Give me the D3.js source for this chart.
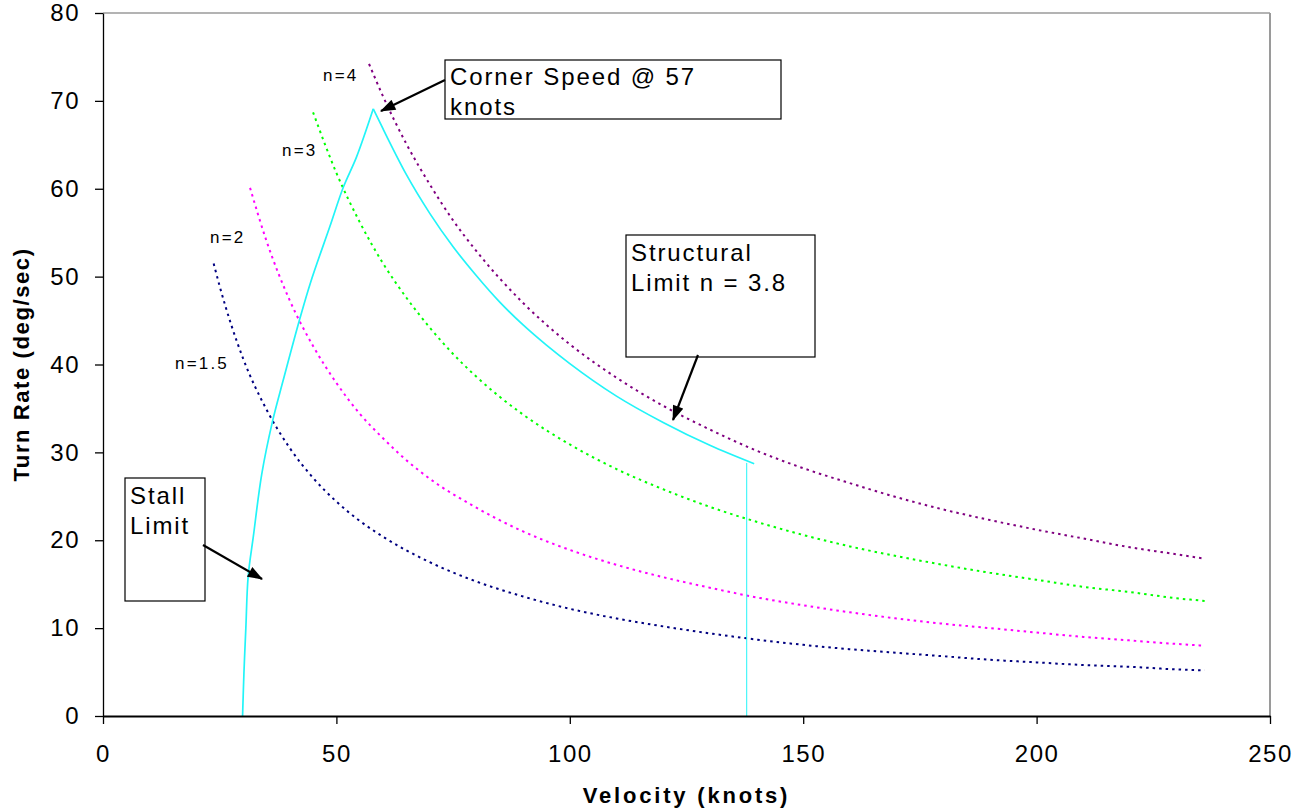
<!DOCTYPE html>
<html>
<head>
<meta charset="utf-8">
<script src="https://cdn.jsdelivr.net/npm/d3@7/dist/d3.min.js"></script>
<style>
  html, body { margin: 0; padding: 0; background: #fff; }
  svg { display: block; }
  text { font-family: "Liberation Sans", Arial, sans-serif; fill: #000; }
</style>
</head>
<body>
<svg id="chart" width="1298" height="810"></svg>
<script>
// Turn rate (deg/sec) vs. velocity (knots) at constant load factor
const velN4 = [57, 60, 65, 70, 75, 80, 90, 100, 110, 120, 130, 140, 150, 160, 170, 180, 190, 200, 210, 220, 230, 236];
const rateN4 = [74.2, 70.5, 65.1, 60.5, 56.4, 52.9, 47.0, 42.3, 38.5, 35.3, 32.6, 30.2, 28.2, 26.5, 24.9, 23.5, 22.3, 21.2, 20.2, 19.2, 18.4, 17.9];

const velN3 = [45, 50, 55, 60, 65, 70, 75, 80, 90, 100, 110, 120, 130, 140, 150, 160, 170, 180, 190, 200, 210, 220, 230, 236];
const rateN3 = [68.7, 61.8, 56.2, 51.5, 47.6, 44.2, 41.2, 38.6, 34.3, 30.9, 28.1, 25.8, 23.8, 22.1, 20.6, 19.3, 18.2, 17.2, 16.3, 15.5, 14.7, 14.1, 13.4, 13.1];

const velN2 = [31.5, 35, 40, 45, 50, 55, 60, 65, 70, 80, 90, 100, 110, 120, 130, 140, 150, 160, 170, 180, 190, 200, 210, 220, 230, 236];
const rateN2 = [60.1, 54.1, 47.3, 42.1, 37.9, 34.4, 31.6, 29.1, 27.0, 23.7, 21.0, 18.9, 17.2, 15.8, 14.6, 13.5, 12.6, 11.8, 11.1, 10.5, 10.0, 9.5, 9.0, 8.6, 8.2, 8.0];

const velN15 = [23.7, 25, 30, 35, 40, 45, 50, 55, 60, 70, 80, 90, 100, 110, 120, 130, 140, 150, 160, 170, 180, 190, 200, 210, 220, 230, 236];
const rateN15 = [51.5, 48.9, 40.7, 34.9, 30.5, 27.1, 24.4, 22.2, 20.4, 17.5, 15.3, 13.6, 12.2, 11.1, 10.2, 9.4, 8.7, 8.1, 7.6, 7.2, 6.8, 6.4, 6.1, 5.8, 5.6, 5.3, 5.2];

// Maneuvering envelope: stall limit up to corner speed, then structural limit (n = 3.8), then max speed
const velStall = [29.9, 30.2, 30.6, 31.1, 32.2, 34.0, 36.3, 38.6, 42.0, 44.5, 48.6, 51.5, 54.3, 57.9];
const rateStall = [0, 5.0, 10.0, 15.9, 20.4, 27.5, 33.5, 38.2, 44.9, 49.4, 55.7, 60.2, 63.6, 69.1];
const velStructural = [57.9, 60, 65, 70, 75, 80, 85, 90, 95, 100, 110, 120, 130, 139.5];
const rateStructural = [69.1, 66.8, 61.6, 57.2, 53.4, 50.1, 47.1, 44.5, 42.2, 40.1, 36.4, 33.4, 30.8, 28.7];
const velMaxSpeed = [137.9, 137.9];
const rateMaxSpeed = [28.8, 0];

const seriesNames = ["n=1.5", "n=2", "n=3", "n=4"];
const xTicks = [0, 50, 100, 150, 200, 250];
const yTicks = [0, 10, 20, 30, 40, 50, 60, 70, 80];

const svg = d3.select("#chart");
const plot = { left: 103, right: 1270, top: 13, bottom: 716 };

const x = d3.scaleLinear().domain([0, 250]).range([plot.left, plot.right]);
const y = d3.scaleLinear().domain([0, 80]).range([plot.bottom, plot.top]);

const zip = (xs, ys) => xs.map((v, i) => [v, ys[i]]);
const lineGen = curve => d3.line().x(d => x(d[0])).y(d => y(d[1])).curve(curve);

// plot-area frame (top and right)
svg.append("line").attr("x1", plot.left).attr("x2", plot.right)
  .attr("y1", plot.top).attr("y2", plot.top)
  .attr("stroke", "#9a9a9a").attr("stroke-width", 1.5);
svg.append("line").attr("x1", plot.right).attr("x2", plot.right)
  .attr("y1", plot.top).attr("y2", plot.bottom)
  .attr("stroke", "#9a9a9a").attr("stroke-width", 2);

// constant load factor curves
const curves = [
  { name: seriesNames[0], data: zip(velN15, rateN15), color: "#000080" },
  { name: seriesNames[1], data: zip(velN2, rateN2), color: "#FF00FF" },
  { name: seriesNames[2], data: zip(velN3, rateN3), color: "#00FF00" },
  { name: seriesNames[3], data: zip(velN4, rateN4), color: "#800080" }
];
svg.append("g").selectAll("path").data(curves).join("path")
  .attr("d", d => lineGen(d3.curveMonotoneX)(d.data))
  .attr("fill", "none")
  .attr("stroke", d => d.color)
  .attr("stroke-width", 2)
  .attr("stroke-dasharray", "2.5,4");

// envelope
const envColor = "#22F4F8";
svg.append("path")
  .attr("d", lineGen(d3.curveCatmullRom)(zip(velStall, rateStall)))
  .attr("fill", "none").attr("stroke", envColor).attr("stroke-width", 1.7);
svg.append("path")
  .attr("d", lineGen(d3.curveMonotoneX)(zip(velStructural, rateStructural)))
  .attr("fill", "none").attr("stroke", envColor).attr("stroke-width", 1.7);
svg.append("path")
  .attr("d", lineGen(d3.curveLinear)(zip(velMaxSpeed, rateMaxSpeed)))
  .attr("fill", "none").attr("stroke", envColor).attr("stroke-width", 1);

// axes
const xAxis = svg.append("g").attr("transform", `translate(0,${plot.bottom})`)
  .call(d3.axisBottom(x).tickValues(xTicks).tickSize(8).tickPadding(21).tickSizeOuter(0));
const yAxis = svg.append("g").attr("transform", `translate(${plot.left},0)`)
  .call(d3.axisLeft(y).tickValues(yTicks).tickSize(8).tickPadding(15).tickSizeOuter(0));
[xAxis, yAxis].forEach(g => {
  g.select(".domain").attr("stroke", "#000");
  g.selectAll(".tick line").attr("stroke", "#000").attr("stroke-width", 1.3);
  g.selectAll(".tick text")
    .style("font-family", '"Liberation Sans", Arial, sans-serif')
    .style("font-size", "24px")
    .style("letter-spacing", "1.5px")
    .attr("fill", "#000");
});
xAxis.select(".domain").attr("stroke-width", 2.2);
yAxis.select(".domain").attr("stroke-width", 1.3);

// axis titles
svg.append("text")
  .attr("x", (plot.left + plot.right) / 2).attr("y", 803)
  .attr("text-anchor", "middle")
  .style("font-size", "22px").style("font-weight", "bold").style("letter-spacing", "2.8px")
  .text("Velocity (knots)");
svg.append("text")
  .attr("transform", `translate(29,${(plot.top + plot.bottom) / 2}) rotate(-90)`)
  .attr("text-anchor", "middle")
  .style("font-size", "22px").style("font-weight", "bold").style("letter-spacing", "1.6px")
  .text("Turn Rate (deg/sec)");

// curve labels
const curveLabels = [
  { text: seriesNames[3], x: 323, y: 81 },
  { text: seriesNames[2], x: 282, y: 156 },
  { text: seriesNames[1], x: 210, y: 243 },
  { text: seriesNames[0], x: 175, y: 369 }
];
svg.append("g").selectAll("text").data(curveLabels).join("text")
  .attr("x", d => d.x).attr("y", d => d.y)
  .style("font-size", "17px").style("letter-spacing", "2.2px")
  .text(d => d.text);

// annotation callouts
const defs = svg.append("defs");
defs.append("marker").attr("id", "arrowHead")
  .attr("viewBox", "0 0 14 10").attr("refX", 13).attr("refY", 5)
  .attr("markerWidth", 7.5).attr("markerHeight", 5)
  .attr("markerUnits", "strokeWidth").attr("orient", "auto")
  .append("path").attr("d", "M0,0 L14,5 L0,10 z").attr("fill", "#000");

const callouts = [
  { box: [445, 60, 336, 59], lines: ["Corner Speed @ 57", "knots"], tx: 450, ty: 85,
    arrow: [445, 80, 381, 111] },
  { box: [626, 235, 189, 122], lines: ["Structural", "Limit n = 3.8"], tx: 631, ty: 261,
    arrow: [698, 355, 673, 420] },
  { box: [125, 478, 80, 123], lines: ["Stall", "Limit"], tx: 130, ty: 504,
    arrow: [203, 545, 262, 579] }
];
callouts.forEach(c => {
  const g = svg.append("g");
  g.append("rect").attr("x", c.box[0]).attr("y", c.box[1])
    .attr("width", c.box[2]).attr("height", c.box[3])
    .attr("fill", "#fff").attr("stroke", "#000").attr("stroke-width", 1.2);
  c.lines.forEach((t, i) => {
    g.append("text").attr("x", c.tx).attr("y", c.ty + i * 29.5)
      .style("font-size", "24px").style("letter-spacing", "1.9px").text(t);
  });
  g.append("line")
    .attr("x1", c.arrow[0]).attr("y1", c.arrow[1])
    .attr("x2", c.arrow[2]).attr("y2", c.arrow[3])
    .attr("stroke", "#000").attr("stroke-width", 2.2)
    .attr("marker-end", "url(#arrowHead)");
});
</script>
</body>
</html>
